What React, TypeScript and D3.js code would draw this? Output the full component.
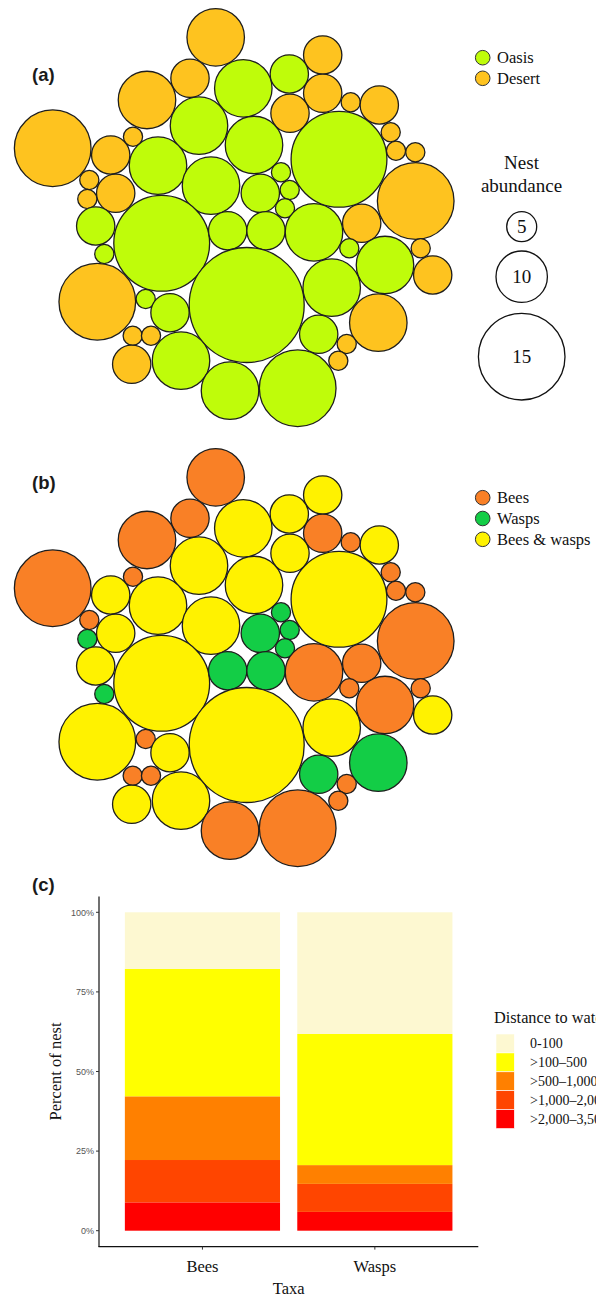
import React from "react";
import * as d3 from "d3";

const W = 596;
const H = 1297;

// ---------- Panels (a) & (b): packed circles (one circle = one site) ----------
// layout coordinates of each circle centre (packing output), size class = nest abundance class
const circleX = [
  215.7, 190, 147, 52.7, 133, 110.7, 89.3, 115.7, 87.3, 322.7, 322.7, 290, 350.7, 379.3,
  390.7, 396, 415.3, 415.7, 361.7, 420.7, 432.7, 378.3, 346.7, 338.3, 97.3, 132.7, 151, 131.7,
  243.3, 289.3, 199, 254, 339, 158, 211, 281, 260.3, 289.7, 285, 95.7, 104.3, 161.7, 227.7,
  266, 314, 349.3, 385, 246.7, 331.7, 145.7, 170, 318.7, 181, 230, 297.7,
];
const circleY = [
  37.3, 78.3, 100, 148.3, 136.7, 155, 180, 193.3, 199, 55, 93.3, 113.3, 102.3, 105,
  132.3, 150.7, 152.3, 201, 223.3, 248.3, 275, 322.7, 344, 360.7, 301.7, 335.7, 335.7, 364.3,
  88.3, 74, 125.7, 145, 159.3, 165.7, 185.7, 172.3, 193.3, 190, 208.3, 226, 254, 243.3, 230.7,
  230.7, 232.3, 248.3, 265, 305, 287.7, 299, 312.7, 334.3, 360.7, 390.7, 388.3,
];
const circleSize = [
  3, 2, 3, 4, 1, 2, 1, 2, 1, 2, 2, 2, 1, 2,
  1, 1, 1, 4, 2, 1, 2, 3, 1, 1, 4, 1, 1, 2,
  3, 2, 3, 3, 5, 3, 3, 1, 2, 1, 1, 2, 1, 5, 2,
  2, 3, 1, 3, 6, 3, 1, 2, 2, 3, 3, 4,
];
const habitat = [
  "Desert", "Desert", "Desert", "Desert", "Desert", "Desert", "Desert", "Desert", "Desert", "Desert",
  "Desert", "Desert", "Desert", "Desert", "Desert", "Desert", "Desert", "Desert", "Desert", "Desert",
  "Desert", "Desert", "Desert", "Desert", "Desert", "Desert", "Desert", "Desert",
  "Oasis", "Oasis", "Oasis", "Oasis", "Oasis", "Oasis", "Oasis", "Oasis", "Oasis", "Oasis",
  "Oasis", "Oasis", "Oasis", "Oasis", "Oasis", "Oasis", "Oasis", "Oasis", "Oasis", "Oasis",
  "Oasis", "Oasis", "Oasis", "Oasis", "Oasis", "Oasis", "Oasis",
];
const taxaGroup = [
  "Bees", "Bees", "Bees", "Bees", "Bees", "Bees & wasps", "Bees", "Bees & wasps", "Wasps", "Bees & wasps",
  "Bees", "Bees & wasps", "Bees", "Bees & wasps", "Bees", "Bees", "Bees", "Bees", "Bees", "Bees",
  "Bees & wasps", "Wasps", "Bees", "Bees", "Bees & wasps", "Bees", "Bees", "Bees & wasps",
  "Bees & wasps", "Bees & wasps", "Bees & wasps", "Bees & wasps", "Bees & wasps", "Bees & wasps", "Bees & wasps",
  "Wasps", "Wasps", "Wasps", "Wasps", "Bees & wasps", "Wasps", "Bees & wasps", "Wasps",
  "Wasps", "Bees", "Bees", "Bees", "Bees & wasps", "Bees & wasps", "Bees", "Bees & wasps", "Wasps",
  "Bees & wasps", "Bees", "Bees",
];

const habitatLevels = ["Oasis", "Desert"];
const habitatColors = ["#bffc0a", "#fec31f"];
const taxaLevels = ["Bees", "Wasps", "Bees & wasps"];
const taxaColors = ["#f98026", "#13cd46", "#fff200"];

const sizeLegendValues = [5, 10, 15];

// ---------- Panel (c): stacked percentage bars ----------
const taxaCats = ["Bees", "Wasps"];
const distClasses = ["0-100", ">100\u2013500", ">500\u20131,000", ">1,000\u20132,000", ">2,000\u20133,500"];
const distColors = ["#fdf8d1", "#ffff00", "#ff8000", "#ff4500", "#ff0000"];
const beesPct = [17.8, 40.0, 20.0, 13.3, 8.9];
const waspsPct = [38.2, 41.2, 5.9, 8.8, 5.9];
const yTicks = [0, 0.25, 0.5, 0.75, 1];

const SERIF = "'Liberation Serif', 'Times New Roman', serif";
const SANS = "'Liberation Sans', Arial, sans-serif";

function CirclePanel({ offsetY, colorOf }: { offsetY: number; colorOf: (i: number) => string }) {
  const x = d3.scaleLinear().domain([0, 460]).range([0, 460]);
  const y = d3.scaleLinear().domain([0, 420]).range([offsetY, offsetY + 420]);
  const r = d3.scaleLinear().domain([0, 6]).range([0, 57.5]);
  return (
    <g>
      {circleX.map((cx, i) => (
        <circle
          key={i}
          cx={x(cx)}
          cy={y(circleY[i])}
          r={r(circleSize[i])}
          fill={colorOf(i)}
          stroke="#1e1e1e"
          strokeWidth={1.3}
        />
      ))}
    </g>
  );
}

export default function App() {
  const habColor = d3.scaleOrdinal<string, string>().domain(habitatLevels).range(habitatColors);
  const taxColor = d3.scaleOrdinal<string, string>().domain(taxaLevels).range(taxaColors);

  // size legend radius scale (as drawn in the figure)
  const legR = d3.scaleLinear().domain([5, 10, 15]).range([15, 25.7, 43.3]);
  const legY = [226.7, 276.7, 356.7];

  // bar chart
  const rows = taxaCats.map((t, i) => {
    const vals = i === 0 ? beesPct : waspsPct;
    const o: any = { taxa: t };
    distClasses.forEach((d, j) => (o[d] = vals[j] / 100));
    return o;
  });
  const stackKeys = [...distClasses].reverse();
  const series = d3.stack().keys(stackKeys)(rows);
  const xAxisL = 99;
  const xAxisR = 478.3;
  const xs = d3.scalePoint<string>().domain(taxaCats).range([xAxisL, xAxisR]).padding(0.6);
  const step = xs.step();
  const barW = step * 0.9;
  const ys = d3.scaleLinear().domain([0, 1]).range([1230.7, 912.3]);
  const yTop = ys(1.05);
  const yBot = ys(-0.05);
  const distColor = d3.scaleOrdinal<string, string>().domain(distClasses).range(distColors);

  return (
    <svg width={W} height={H} style={{ position: "absolute", left: 0, top: 0, background: "#fff" }}>
      <rect x={0} y={0} width={W} height={H} fill="#fff" />
      {/* Panel (a) */}
      <text x={32} y={81} fontFamily={SANS} fontWeight="bold" fontSize={18.5} fill="#1a1a1a">(a)</text>
      <CirclePanel offsetY={0} colorOf={(i) => habColor(habitat[i])} />
      {habitatLevels.map((h, i) => (
        <g key={h}>
          <circle cx={482.7} cy={57.7 + i * 20.6} r={7.3} fill={habColor(h)} stroke="#333" strokeWidth={1} />
          <text x={497} y={63.3 + i * 20.6} fontFamily={SERIF} fontSize={16.5} fill="#111">{h}</text>
        </g>
      ))}
      <text x={521.5} y={168.5} textAnchor="middle" fontFamily={SERIF} fontSize={19} fill="#111">Nest</text>
      <text x={521.5} y={191.7} textAnchor="middle" fontFamily={SERIF} fontSize={19} fill="#111">abundance</text>
      {sizeLegendValues.map((v, i) => (
        <g key={v}>
          <circle cx={521.7} cy={legY[i]} r={legR(v)} fill="#fff" stroke="#111" strokeWidth={1.3} />
          <text x={521.7} y={legY[i] + 6.5} textAnchor="middle" fontFamily={SERIF} fontSize={19} fill="#111">{v}</text>
        </g>
      ))}

      {/* Panel (b) */}
      <text x={32} y={488.5} fontFamily={SANS} fontWeight="bold" fontSize={18.5} fill="#1a1a1a">(b)</text>
      <CirclePanel offsetY={440} colorOf={(i) => taxColor(taxaGroup[i])} />
      {taxaLevels.map((t, i) => (
        <g key={t}>
          <circle cx={482.7} cy={497.7 + i * 20.8} r={7.3} fill={taxColor(t)} stroke="#333" strokeWidth={1} />
          <text x={497} y={503.3 + i * 20.8} fontFamily={SERIF} fontSize={16.5} fill="#111">{t}</text>
        </g>
      ))}

      {/* Panel (c) */}
      <text x={32} y={891} fontFamily={SANS} fontWeight="bold" fontSize={18.5} fill="#1a1a1a">(c)</text>
      {series.map((s) => (
        <g key={s.key} fill={distColor(s.key)}>
          {s.map((d: any, j: number) => (
            <rect
              key={j}
              x={(xs(d.data.taxa) as number) - barW / 2}
              y={ys(d[1])}
              width={barW}
              height={ys(d[0]) - ys(d[1])}
            />
          ))}
        </g>
      ))}
      {/* y axis */}
      <line x1={xAxisL} x2={xAxisL} y1={yTop} y2={yBot + 0.5} stroke="#111" strokeWidth={1.2} />
      {yTicks.map((t) => (
        <g key={t}>
          <line x1={xAxisL - 3} x2={xAxisL} y1={ys(t)} y2={ys(t)} stroke="#333" strokeWidth={1} />
          <text x={xAxisL - 5} y={ys(t) + 3.2} textAnchor="end" fontFamily={SANS} fontSize={9} fill="#555">
            {d3.format(".0%")(t)}
          </text>
        </g>
      ))}
      {/* x axis */}
      <line x1={xAxisL - 0.5} x2={xAxisR} y1={yBot} y2={yBot} stroke="#111" strokeWidth={1.2} />
      {taxaCats.map((t) => (
        <g key={t}>
          <line x1={xs(t)} x2={xs(t)} y1={yBot} y2={yBot + 3} stroke="#333" strokeWidth={1} />
          <text x={xs(t)} y={1271.5} textAnchor="middle" fontFamily={SERIF} fontSize={16.5} fill="#111">{t}</text>
        </g>
      ))}
      <text x={288.7} y={1293.5} textAnchor="middle" fontFamily={SERIF} fontSize={16.5} fill="#111">Taxa</text>
      <text
        transform={`translate(60.5, ${(ys(0) + ys(1)) / 2}) rotate(-90)`}
        textAnchor="middle"
        fontFamily={SERIF}
        fontSize={16.5}
        fill="#111"
      >
        Percent of nest
      </text>
      {/* legend (c) */}
      <text x={494} y={1022.7} fontFamily={SERIF} fontSize={16.3} fill="#111">Distance to water (m)</text>
      {distClasses.map((d, i) => (
        <g key={d}>
          <rect x={496} y={1034 + i * 18.9} width={18.3} height={18.9} fill={distColor(d)} stroke="#fff" strokeWidth={0.6} />
          <text x={530} y={1048 + i * 18.9} fontFamily={SERIF} fontSize={14} fill="#111">{d}</text>
        </g>
      ))}
    </svg>
  );
}
